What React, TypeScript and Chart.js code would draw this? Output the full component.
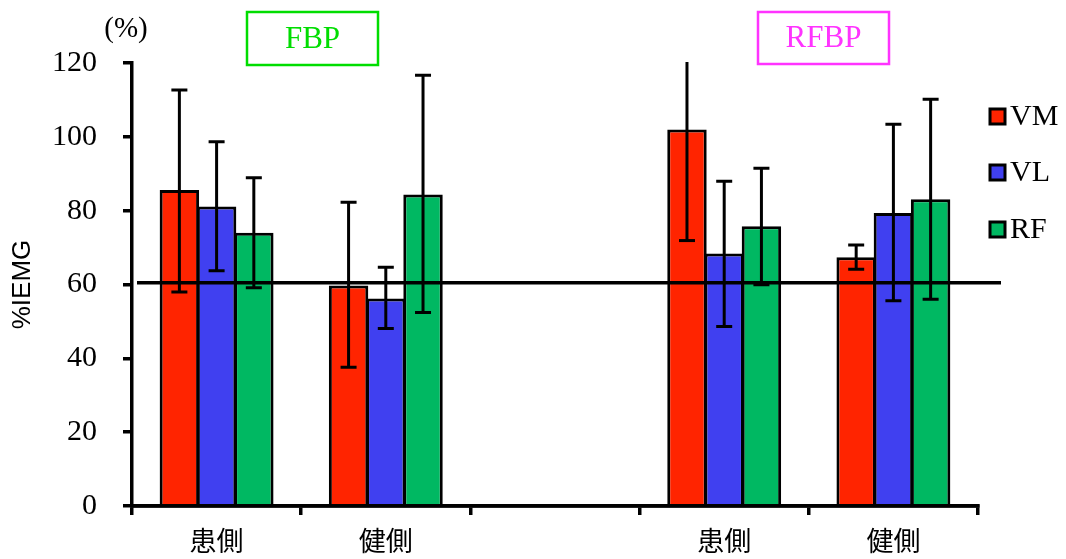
import React, { useEffect, useRef } from 'react';
import { Chart, registerables } from 'chart.js';

Chart.register(...registerables);

// ---- data ----
const categories = ['患側', '健側', '', '患側', '健側'];
const seriesNames = ['VM', 'VL', 'RF'];
const seriesColors = ['#FF2400', '#4040F0', '#00B862'];

const vmValues = [85.6, 59.7, null, 102.0, 67.4];
const vlValues = [81.1, 56.2, null, 68.4, 79.4];
const rfValues = [74.0, 84.4, null, 75.8, 83.1];

const vmUpper = [112.7, 82.3, null, 125.0, 70.7];
const vmLower = [58.0, 37.6, null, 71.9, 64.1];
const vlUpper = [98.7, 64.7, null, 88.0, 103.4];
const vlLower = [63.7, 48.1, null, 48.6, 55.6];
const rfUpper = [88.9, 116.7, null, 91.5, 110.2];
const rfLower = [59.1, 52.4, null, 59.9, 56.0];

const yTickValues = [0, 20, 40, 60, 80, 100, 120];
const refLineValue = 60.5;
const groupTitles = ['FBP', 'RFBP'];
const groupTitleColors = ['#00DD00', '#FF33FF'];
const yUnitLabel = '(%)';
const yAxisTitle = '%IEMG';

const seriesValues = [vmValues, vlValues, rfValues];
const upperValues = [vmUpper, vlUpper, rfUpper];
const lowerValues = [vmLower, vlLower, rfLower];

const SERIF = '"Liberation Serif", "DejaVu Serif", serif';

const overlayPlugin = {
  id: 'overlay',
  afterDatasetsDraw(chart: any) {
    const { ctx, chartArea, scales } = chart;
    const y = scales.y;
    // redraw x axis line over bar bottoms
    ctx.save();
    ctx.strokeStyle = '#000';
    ctx.lineWidth = 3.5;
    ctx.beginPath();
    ctx.moveTo(chartArea.left - 1.5, y.getPixelForValue(0));
    ctx.lineTo(chartArea.right + 1.5, y.getPixelForValue(0));
    ctx.stroke();
    ctx.restore();

    // error bars
    ctx.save();
    ctx.beginPath();
    ctx.rect(0, chartArea.top - 1, chart.width, chart.height);
    ctx.clip();
    ctx.strokeStyle = '#000';
    ctx.lineWidth = 3;
    const capHalf = 8;
    chart.data.datasets.forEach((ds: any, i: number) => {
      const meta = chart.getDatasetMeta(i);
      meta.data.forEach((bar: any, j: number) => {
        const up = upperValues[i][j];
        const lo = lowerValues[i][j];
        if (up == null || lo == null || seriesValues[i][j] == null) return;
        const x = bar.x;
        const yU = y.getPixelForValue(up);
        const yL = y.getPixelForValue(lo);
        ctx.beginPath();
        ctx.moveTo(x, yU);
        ctx.lineTo(x, yL);
        ctx.stroke();
        ctx.beginPath();
        if (up <= y.max) {
          ctx.moveTo(x - capHalf, yU);
          ctx.lineTo(x + capHalf, yU);
        }
        ctx.moveTo(x - capHalf, yL);
        ctx.lineTo(x + capHalf, yL);
        ctx.stroke();
      });
    });
    ctx.restore();

    // reference line
    const yr = y.getPixelForValue(refLineValue);
    ctx.save();
    ctx.strokeStyle = '#000';
    ctx.lineWidth = 3.5;
    ctx.beginPath();
    ctx.moveTo(chartArea.left + 5, yr);
    ctx.lineTo(chartArea.right + 23, yr);
    ctx.stroke();
    ctx.restore();
  },
  afterDraw(chart: any) {
    const { ctx } = chart;
    ctx.save();
    // unit label
    ctx.fillStyle = '#000';
    ctx.font = `29px ${SERIF}`;
    ctx.textAlign = 'center';
    ctx.textBaseline = 'middle';
    ctx.fillText(yUnitLabel, 126, 29);

    // group title boxes
    const boxes = [
      { x: 247, y: 12, w: 131, h: 53 },
      { x: 758, y: 12, w: 131, h: 52 },
    ];
    boxes.forEach((b, i) => {
      ctx.strokeStyle = groupTitleColors[i];
      ctx.lineWidth = 2.5;
      ctx.strokeRect(b.x, b.y, b.w, b.h);
      ctx.fillStyle = groupTitleColors[i];
      ctx.font = `31px ${SERIF}`;
      ctx.textAlign = 'center';
      ctx.textBaseline = 'middle';
      ctx.fillText(groupTitles[i], b.x + b.w / 2, b.y + b.h / 2 + 1);
    });

    // legend
    const rowY = [116.5, 172.5, 229.5];
    chart.data.datasets.forEach((ds: any, i: number) => {
      const cy = rowY[i];
      ctx.fillStyle = ds.backgroundColor;
      ctx.fillRect(990, cy - 7.5, 15, 15);
      ctx.strokeStyle = '#000';
      ctx.lineWidth = 3;
      ctx.strokeRect(990, cy - 7.5, 15, 15);
      ctx.fillStyle = '#000';
      ctx.font = `30px ${SERIF}`;
      ctx.textAlign = 'left';
      ctx.textBaseline = 'middle';
      ctx.fillText(ds.label, 1010, cy + 1);
    });
    ctx.restore();
  },
};

export default function App() {
  const canvasRef = useRef<HTMLCanvasElement>(null);

  useEffect(() => {
    document.body.style.margin = '0';
    const canvas = canvasRef.current;
    if (!canvas) return;
    const chart = new Chart(canvas, {
      type: 'bar',
      data: {
        labels: categories,
        datasets: seriesNames.map((name, i) => ({
          label: name,
          data: seriesValues[i] as any,
          backgroundColor: seriesColors[i],
          borderColor: '#000',
          borderWidth: 3,
          barPercentage: 1.06,
          categoryPercentage: 0.66,
        })),
      },
      options: {
        animation: false,
        responsive: false,
        maintainAspectRatio: false,
        layout: { padding: { left: 0, top: 63, right: 88, bottom: 0 } },
        plugins: {
          legend: { display: false },
          tooltip: { enabled: false },
        },
        scales: {
          x: {
            offset: true,
            grid: {
              offset: true,
              drawOnChartArea: false,
              drawTicks: true,
              tickLength: 9,
              color: '#000',
              lineWidth: 3.5,
            },
            border: { display: true, color: '#000', width: 3.5 },
            ticks: {
              color: '#000',
              padding: 10,
              font: { family: '"Noto Sans CJK JP", sans-serif', size: 27 },
              maxRotation: 0,
              autoSkip: false,
            },
            afterFit(scale: any) {
              scale.height = 53;
            },
          },
          y: {
            min: 0,
            max: 120,
            afterBuildTicks(scale: any) {
              scale.ticks = yTickValues.map((v) => ({ value: v }));
            },
            grid: {
              drawOnChartArea: false,
              drawTicks: true,
              tickLength: 9,
              color: '#000',
              lineWidth: 3.5,
            },
            border: { display: true, color: '#000', width: 3.5 },
            ticks: {
              color: '#000',
              padding: 26,
              font: { family: SERIF, size: 30 },
            },
            title: {
              display: true,
              text: yAxisTitle,
              color: '#000',
              font: { family: '"Liberation Sans", Arial, sans-serif', size: 26 },
              padding: { top: 7, bottom: 0 },
            },
            afterFit(scale: any) {
              scale.width = 132;
            },
          },
        },
      },
      plugins: [overlayPlugin],
    });
    return () => chart.destroy();
  }, []);

  return <canvas ref={canvasRef} width={1066} height={559} style={{ display: 'block' }} />;
}
